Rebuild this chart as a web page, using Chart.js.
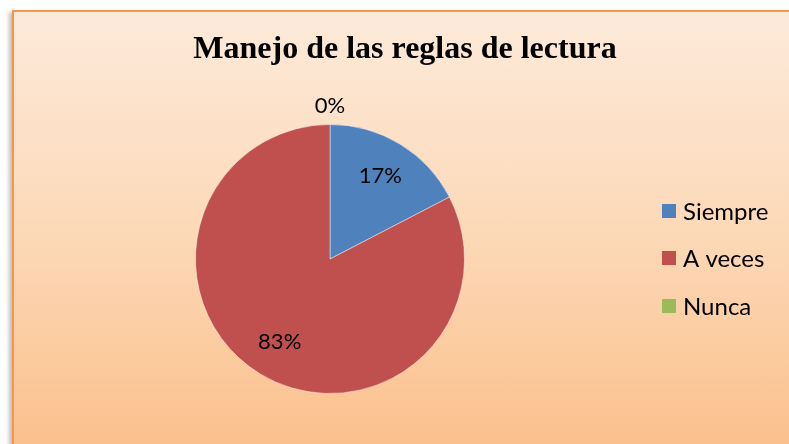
<!DOCTYPE html>
<html><head><meta charset="utf-8">
<script src="https://cdn.jsdelivr.net/npm/chart.js@4/dist/chart.umd.min.js"></script>
<style>
html,body{margin:0;padding:0;background:#fff;width:789px;height:444px;overflow:hidden}
#box{position:absolute;left:12px;top:10px;width:790px;height:440px;box-sizing:border-box;
border:2px solid #F79646;background:linear-gradient(to bottom,#FDEADA 0%,#FCD9B8 50%,#FBC08C 100%);
box-shadow:-3px 2px 4px rgba(0,0,0,0.25)}
#c{position:absolute;left:0;top:0}
</style></head>
<body>
<div id="box"></div>
<canvas id="c" width="789" height="444"></canvas>
<script>
const title = "Manejo de las reglas de lectura";
const categories = ["Siempre", "A veces", "Nunca"];
const values = [4, 19, 0];
const percentLabels = ["17%", "83%", "0%"];
const colors = ["#4F81BD", "#C0504D", "#9BBB59"];

const LABEL_FONT = '22px Lato, "Open Sans", sans-serif';
const LEGEND_FONT = '24px Lato, "Open Sans", sans-serif';

const deco = {
  id: 'deco',
  afterDraw(chart) {
    const ctx = chart.ctx;
    ctx.save();
    // title
    ctx.fillStyle = '#000';
    ctx.font = 'bold 32px "Liberation Serif", "Times New Roman", serif';
    ctx.textAlign = 'center'; ctx.textBaseline = 'middle';
    ctx.fillText(title, 405, 50);
    // data labels
    const meta = chart.getDatasetMeta(0);
    ctx.font = LABEL_FONT;
    meta.data.forEach((arc, i) => {
      const p = arc.getProps(['x','y','startAngle','endAngle','outerRadius'], true);
      const mid = (p.startAngle + p.endAngle) / 2;
      let r = p.outerRadius * 0.72;
      if (values[i] === 0) r = p.outerRadius + 19;
      ctx.fillText(percentLabels[i], p.x + Math.cos(mid) * r, p.y + Math.sin(mid) * r);
    });
    // legend
    ctx.textAlign = 'left';
    ctx.font = LEGEND_FONT;
    const ys = [211, 258, 306];
    categories.forEach((c, i) => {
      ctx.fillStyle = colors[i];
      ctx.fillRect(662, ys[i] - 7, 14, 14);
      ctx.fillStyle = '#000';
      ctx.fillText(c, 683, ys[i] + 1);
    });
    ctx.restore();
  }
};

new Chart(document.getElementById('c'), {
  type: 'pie',
  data: {
    labels: categories,
    datasets: [{ data: values, backgroundColor: colors, borderColor: 'rgba(255,255,255,0.45)', borderWidth: 1 }]
  },
  options: {
    responsive: false,
    animation: false,
    layout: { padding: { left: 195, right: 324, top: 124, bottom: 50 } },
    plugins: { legend: { display: false }, title: { display: false }, tooltip: { enabled: false } }
  },
  plugins: [deco]
});
</script>
</body></html>
